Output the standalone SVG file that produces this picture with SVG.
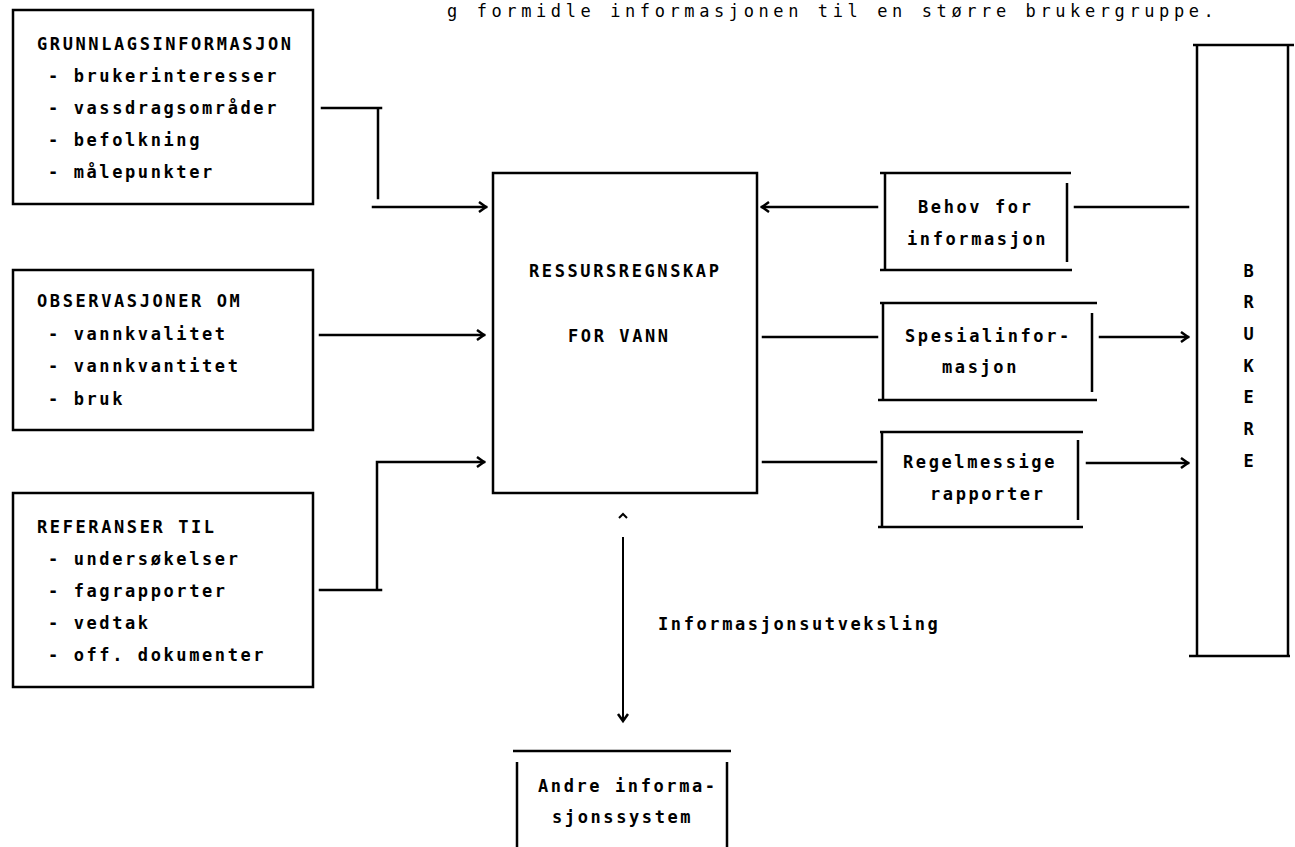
<svg xmlns="http://www.w3.org/2000/svg" width="1295" height="847" viewBox="0 0 1295 847">
<style>
text{font-family:"DejaVu Sans Mono","Liberation Mono",monospace;font-size:17px;font-weight:bold;letter-spacing:2.6px;fill:#000}
.top{font-weight:normal;letter-spacing:4.6px}
.box{fill:none;stroke:#000;stroke-width:2.5}
.ln{fill:none;stroke:#000;stroke-width:2.5;stroke-linecap:square}
.thin{fill:none;stroke:#000;stroke-width:2}
.mid{text-anchor:middle}
</style>
<defs>
<marker id="chev" markerUnits="userSpaceOnUse" markerWidth="12" markerHeight="14" refX="8" refY="6" orient="auto">
<path d="M1,1 L8,6 L1,11" fill="none" stroke="#000" stroke-width="2.5"/>
</marker>
</defs>
<rect width="1295" height="847" fill="#fff"/>
<text class="top" x="447" y="17">g formidle informasjonen til en større  brukergruppe.</text>

<g id="grunnlag">
<rect class="box" x="13" y="10" width="300" height="194"/>
<text x="37" y="50">GRUNNLAGSINFORMASJON</text>
<text x="48" y="82">- brukerinteresser</text>
<text x="48" y="114">- vassdragsområder</text>
<text x="48" y="146">- befolkning</text>
<text x="48" y="178">- målepunkter</text>
</g>
<g id="observasjoner">
<rect class="box" x="13" y="270" width="300" height="160"/>
<text x="37" y="307">OBSERVASJONER OM</text>
<text x="48" y="340">- vannkvalitet</text>
<text x="48" y="372">- vannkvantitet</text>
<text x="48" y="405">- bruk</text>
</g>
<g id="referanser">
<rect class="box" x="13" y="493" width="300" height="194"/>
<text x="37" y="533">REFERANSER TIL</text>
<text x="48" y="565">- undersøkelser</text>
<text x="48" y="597">- fagrapporter</text>
<text x="48" y="629">- vedtak</text>
<text x="48" y="661">- off. dokumenter</text>
</g>
<g id="ressurs">
<rect class="box" x="493" y="173" width="264" height="320"/>
<text x="529" y="277">RESSURSREGNSKAP</text>
<text x="568" y="342">FOR VANN</text>
</g>
<g id="behov">
<path class="box" d="M880,173 H1071 M885,173 V270 M1067,183 V262 M880,270 H1072"/>
<text x="918" y="213">Behov for</text>
<text x="907" y="245">informasjon</text>
</g>
<g id="spesial">
<path class="box" d="M880,303 H1097 M883,303 V400 M1092,313 V392 M878,400 H1097"/>
<text x="905" y="342">Spesialinfor-</text>
<text x="942" y="373">masjon</text>
</g>
<g id="regel">
<path class="box" d="M880,432 H1083 M882,432 V527 M1078,440 V520 M878,527 H1083"/>
<text x="903" y="468">Regelmessige</text>
<text x="930" y="500">rapporter</text>
</g>
<g id="brukere">
<path class="box" d="M1193,45 H1294 M1197,45 V656 M1288,45 V656 M1189,656 H1290"/>
<text class="mid" x="1250" y="277">B</text>
<text class="mid" x="1250" y="308">R</text>
<text class="mid" x="1250" y="340">U</text>
<text class="mid" x="1250" y="372">K</text>
<text class="mid" x="1250" y="403">E</text>
<text class="mid" x="1250" y="435">R</text>
<text class="mid" x="1250" y="467">E</text>
</g>
<g id="andre">
<path class="box" d="M513,751 H731 M517,762 V847 M727,762 V847"/>
<text x="538" y="792">Andre informa-</text>
<text x="552" y="823">sjonssystem</text>
</g>

<g id="connectors">
<path class="ln" d="M322,108 H381 M378,108 V198 M373,207 H486" marker-end="url(#chev)"/>
<path class="ln" d="M320,335 H484" marker-end="url(#chev)"/>
<path class="ln" d="M320,590 H381 M377,590 V462 H484" marker-end="url(#chev)"/>
<path class="ln" d="M877,207 H762" marker-end="url(#chev)"/>
<path class="ln" d="M763,337 H877"/>
<path class="ln" d="M763,462 H876"/>
<path class="ln" d="M1075,207 H1188"/>
<path class="ln" d="M1100,337 H1188" marker-end="url(#chev)"/>
<path class="ln" d="M1087,463 H1188" marker-end="url(#chev)"/>
<path class="thin" d="M619,518 L623,514 L627,518"/>
<path class="thin" d="M623,537 V721" marker-end="url(#chev)"/>
<text x="658" y="630">Informasjonsutveksling</text>
</g>
</svg>
